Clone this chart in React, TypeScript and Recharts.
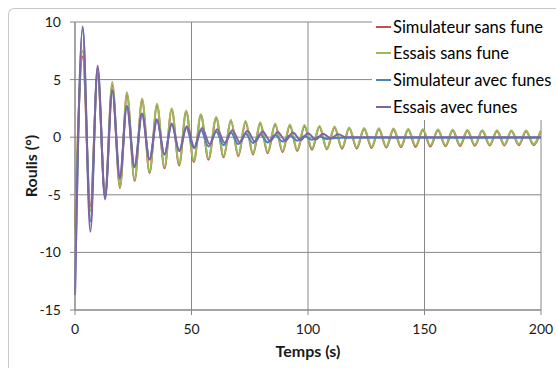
import { LineChart, Line, XAxis, YAxis, CartesianGrid, Legend } from 'recharts'

// extremum times (s), start point then peak/trough pairs
const T_SANS = [
  0, 3.3, 6.6, 9.7, 12.9, 16.0, 19.3, 22.3, 25.6, 28.8, 32.0, 35.2, 38.4, 41.5, 44.7, 47.7, 51.0,
  54.0, 57.3, 60.6, 63.8, 66.9, 70.1, 73.2, 76.4, 79.5, 82.7, 85.9, 89.1, 92.2, 95.4, 98.5, 101.7,
  104.9, 108.1, 111.4, 114.6, 117.7, 120.9, 124.1, 127.3, 130.4, 133.6, 136.7, 139.9, 143.0, 146.2,
  149.3, 152.5, 155.8, 159.0, 162.1, 165.3, 168.4, 171.6, 174.8, 178.0, 181.1, 184.3, 187.3, 190.5,
  193.6, 196.8, 199.8,
]

const SIM_SANS = [
  -8.0, 7.0, -6.0, 5.5, -5.1, 4.5, -4.4, 3.7, -3.8, 3.2, -3.1, 2.75, -2.7, 2.4, -2.45, 2.2, -2.15,
  1.9, -1.95, 1.65, -1.75, 1.45, -1.65, 1.3, -1.5, 1.2, -1.4, 1.1, -1.3, 1.0, -1.2, 0.95, -1.1,
  0.9, -1.05, 0.85, -1.0, 0.78, -0.98, 0.72, -0.94, 0.7, -0.9, 0.67, -0.87, 0.64, -0.84,
  0.62, -0.81, 0.6, -0.78, 0.58, -0.76, 0.56, -0.74, 0.55, -0.72, 0.54, -0.71, 0.53, -0.7,
  0.52, -0.68, 0.5,
]

const ESS_SANS = [
  -8.4, 7.5, -6.4, 5.6, -5.0, 4.8, -4.3, 3.9, -3.7, 3.35, -3.0, 2.9, -2.6, 2.5, -2.35, 2.3, -2.05,
  2.0, -1.85, 1.75, -1.65, 1.5, -1.55, 1.4, -1.4, 1.3, -1.3, 1.2, -1.2, 1.1, -1.1, 1.05, -1.0,
  0.98, -0.98, 0.92, -0.92, 0.85, -0.9, 0.8, -0.85, 0.78, -0.82, 0.75, -0.78, 0.72, -0.75,
  0.7, -0.72, 0.66, -0.7, 0.64, -0.68, 0.62, -0.66, 0.6, -0.65, 0.6, -0.64, 0.58, -0.62,
  0.58, -0.6, 0.55,
]

const T_SIM_AVEC = [
  0, 3.3, 6.6, 9.7, 12.9, 16.0, 19.3, 22.3, 25.6, 28.8, 32.0, 35.2, 38.4, 41.5, 44.7, 47.7, 51.0,
  54.0, 57.3, 60.6, 63.8, 66.9, 70.1, 73.2, 76.4, 79.5, 82.7, 85.9, 89.1, 92.2, 95.4, 98.5, 101.7,
  104.9, 108.1, 113.0, 200,
]

const SIM_AVEC = [
  -13.7, 9.4, -7.3, 6.0, -5.2, 4.1, -3.4, 2.7, -2.5, 2.0, -1.9, 1.45, -1.5, 1.1, -1.2, 0.85, -0.95,
  0.65, -0.8, 0.5, -0.7, 0.4, -0.6, 0.3, -0.5, 0.25, -0.45, 0.2, -0.38, 0.15, -0.3, 0.1, -0.22,
  0.05, -0.15, -0.05, -0.05,
]

const T_ESS_AVEC = [
  0, 3.3, 6.6, 9.7, 12.9, 16.0, 19.2, 22.2, 25.5, 28.7, 32.0, 35.1, 38.4, 41.5, 44.8, 48.0, 51.3,
  54.5, 57.8, 61.0, 64.3, 67.5, 70.8, 74.0, 77.3, 80.5, 83.8, 87.0, 90.3, 93.5, 96.8, 100.0, 103.3,
  106.5, 109.8, 113.0, 116.3, 120.0, 200,
]

const ESS_AVEC = [
  -13.7, 9.6, -8.2, 6.2, -5.4, 4.0, -3.6, 2.7, -2.6, 2.05, -1.95, 1.55, -1.5, 1.2, -1.2, 0.95, -0.9,
  0.8, -0.6, 0.7, -0.5, 0.6, -0.45, 0.55, -0.4, 0.5, -0.35, 0.45, -0.3, 0.4, -0.25, 0.35, -0.2,
  0.3, -0.1, 0.25, 0, 0, 0,
]

const X_TICKS = [0, 50, 100, 150, 200]
const Y_TICKS = [-15, -10, -5, 0, 5, 10]

const zip = (ts: number[], vs: number[]) => ts.map((t, i) => ({ t, v: vs[i] }))

const SERIES = [
  { name: 'Simulateur sans fune', colour: '#C0504D', data: zip(T_SANS, SIM_SANS) },
  { name: 'Essais sans fune', colour: '#9BBB59', data: zip(T_SANS, ESS_SANS) },
  { name: 'Simulateur avec funes', colour: '#4F81BD', data: zip(T_SIM_AVEC, SIM_AVEC) },
  { name: 'Essais avec funes', colour: '#8064A2', data: zip(T_ESS_AVEC, ESS_AVEC) },
]

const GRID = '#878787'
const FONT = 'Lato, "Open Sans", sans-serif'

function renderLegend() {
  return (
    <div style={{ background: '#fff', paddingLeft: 4, fontFamily: FONT, fontSize: 16.5, color: '#000' }}>
      {SERIES.map((s) => (
        <div key={s.name} style={{ display: 'flex', alignItems: 'center', height: 26.7, whiteSpace: 'nowrap' }}>
          <span style={{ display: 'inline-block', width: 15, height: 2, background: s.colour, marginRight: 2 }} />
          <span>{s.name}</span>
        </div>
      ))}
    </div>
  )
}

export default function App() {
  return (
    <>
      <style>{'html, body { overflow: hidden; }'}</style>
      <div
        style={{
          position: 'fixed',
          top: 8,
          left: 8,
          width: 547,
          height: 359,
          borderTop: '1px solid #c8c8c8',
          borderLeft: '1px solid #c8c8c8',
          borderTopLeftRadius: 6,
          background: '#fff',
          fontFamily: FONT,
        }}
      >
        <LineChart width={547} height={354} margin={{ top: 13, right: 15, left: 0, bottom: 3 }}>
          <CartesianGrid stroke={GRID} strokeWidth={1} />
          <XAxis
            type="number"
            dataKey="t"
            domain={[0, 200]}
            ticks={X_TICKS}
            height={50}
            tickSize={5}
            tickMargin={9}
            stroke={GRID}
            tick={{ fill: '#1a1a1a', fontSize: 14 }}
            label={{
              value: 'Temps (s)',
              position: 'insideBottom',
              offset: 3,
              style: { fontWeight: 'bold', fontSize: 16, fill: '#1a1a1a' },
            }}
          />
          <YAxis
            type="number"
            domain={[-15, 10]}
            ticks={Y_TICKS}
            width={66}
            tickSize={5}
            tickMargin={9}
            stroke={GRID}
            tick={{ fill: '#1a1a1a', fontSize: 14 }}
            label={{
              value: 'Roulis (°)',
              angle: -90,
              position: 'insideLeft',
              offset: 22,
              style: { textAnchor: 'middle', fontWeight: 'bold', fontSize: 16, fill: '#1a1a1a' },
            }}
          />
          <Legend
            layout="vertical"
            align="center"
            verticalAlign="middle"
            content={renderLegend}
            wrapperStyle={{ top: 4.3, left: 363, width: 184 }}
          />
          {SERIES.map((s) => (
            <Line
              key={s.name}
              data={s.data}
              dataKey="v"
              name={s.name}
              type="monotone"
              stroke={s.colour}
              strokeWidth={2}
              dot={false}
              isAnimationActive={false}
            />
          ))}
        </LineChart>
      </div>
    </>
  )
}
